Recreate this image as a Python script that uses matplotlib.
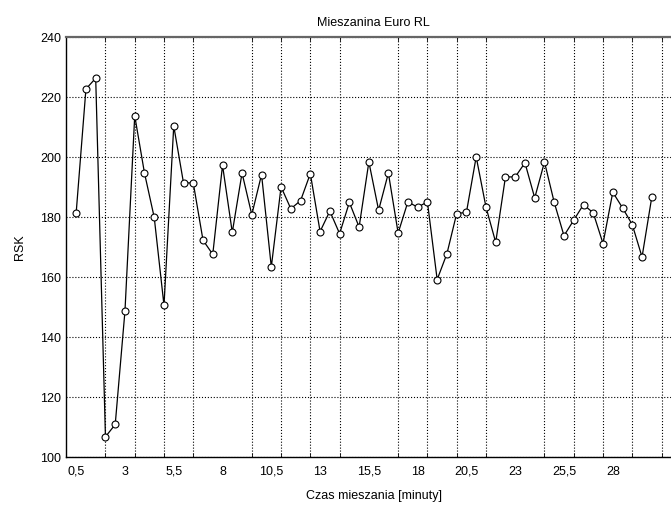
import numpy as np
import matplotlib
matplotlib.use('Agg')
import matplotlib.pyplot as plt
from matplotlib.ticker import FixedLocator, FuncFormatter

plt.rcParams['font.family'] = ['Liberation Sans', 'DejaVu Sans']

# mixing time [min] and RSK readings
czas = [0.5 * i for i in range(1, 61)]
rsk = [181.5, 222.7, 226.3, 106.8, 110.9, 148.7, 213.8, 194.7, 179.9, 150.6,
       210.4, 191.4, 191.4, 172.3, 167.6, 197.3, 174.9, 194.7, 180.8, 194.2,
       163.4, 190.1, 182.8, 185.5, 194.5, 175.2, 182.0, 174.5, 184.9, 176.7,
       198.4, 182.3, 194.7, 174.7, 185.1, 183.3, 185.1, 159.2, 167.8, 181.2,
       181.6, 200.1, 183.4, 171.6, 193.4, 193.4, 198.1, 186.4, 198.4, 184.9,
       173.8, 179.0, 184.2, 181.4, 171.2, 188.3, 183.1, 177.5, 166.7, 186.7]

x_labels = [0.5, 3, 5.5, 8, 10.5, 13, 15.5, 18, 20.5, 23, 25.5, 28]
x_grid = [0.5 + 1.5 * k for k in range(21)]
y_ticks = [100, 120, 140, 160, 180, 200, 220, 240]

fig = plt.figure(figsize=(6.71, 5.08), dpi=100)
ax = fig.add_axes([0.099, 0.100, 0.916, 0.827])

ax.plot(czas, rsk, color='black', linewidth=0.9, marker='o', markersize=5,
        markerfacecolor='white', markeredgecolor='black', markeredgewidth=0.8,
        zorder=3)

ax.set_xlim(0, 31.5)
ax.set_ylim(100, 240)

ax.xaxis.set_major_locator(FixedLocator(x_labels))
ax.xaxis.set_minor_locator(FixedLocator(x_grid))
ax.xaxis.set_major_formatter(FuncFormatter(lambda v, p: ('%g' % v).replace('.', ',')))
ax.set_yticks(y_ticks)

ax.tick_params(axis='x', which='major', length=0, labelsize=9, pad=6)
ax.tick_params(axis='x', which='minor', direction='in', length=3, top=True, width=0.6)
ax.tick_params(axis='y', which='major', direction='in', length=0, labelsize=9, pad=4)

ax.grid(True, axis='x', which='minor', linestyle=':', color='black', linewidth=0.8)
ax.grid(True, axis='y', which='major', linestyle=':', color='black', linewidth=0.8)
ax.grid(False, axis='x', which='major')

for s in ax.spines.values():
    s.set_linewidth(1.0)
ax.spines['top'].set_color('#666666')
ax.spines['top'].set_linewidth(1.6)

ax.set_title('Mieszanina Euro RL', fontsize=9, pad=8)
ax.set_xlabel('Czas mieszania [minuty]', fontsize=9, labelpad=9)
ax.set_ylabel('RSK', fontsize=9, labelpad=10)

fig.savefig('out.png', dpi=100)
